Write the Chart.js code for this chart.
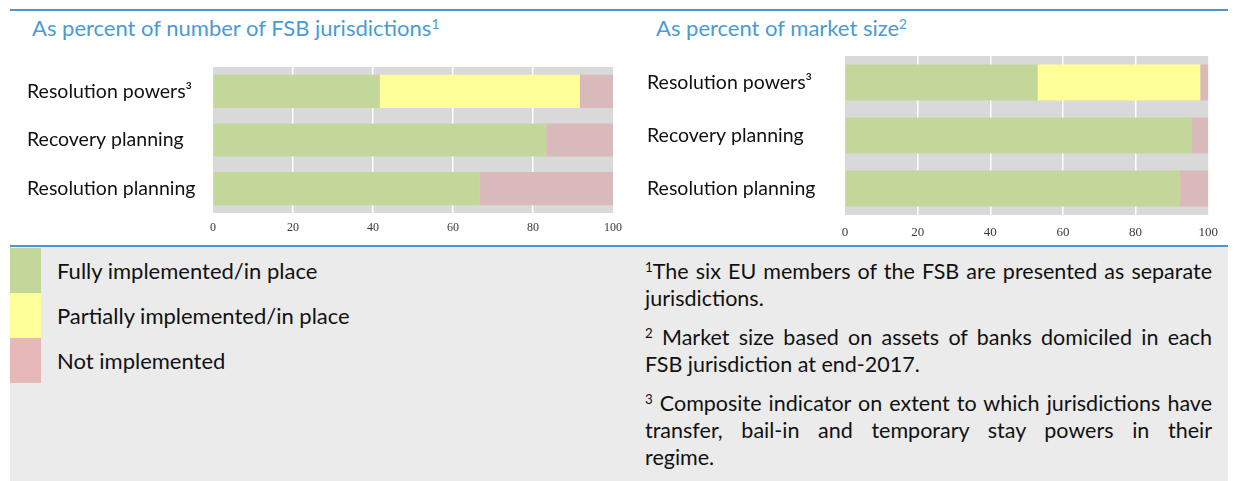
<!DOCTYPE html>
<html>
<head>
<meta charset="utf-8">
<script src="https://cdn.jsdelivr.net/npm/chart.js@4"></script>
<style>
  html, body { margin: 0; padding: 0; background: #ffffff; }
  body { width: 1236px; height: 481px; position: relative; overflow: hidden; font-family: Lato, "Open Sans", sans-serif; }
  .rule { position: absolute; left: 10px; width: 1218px; height: 2px; background: #4b94cc; }
  .title { position: absolute; top: 14px; font-size: 22px; line-height: 27px; color: #4a9bd3; white-space: nowrap; }
  sup { font-size: 0.62em; line-height: 0; vertical-align: 0.5em; }
  canvas { position: absolute; }
  #panel { position: absolute; left: 10px; top: 247px; width: 1218px; height: 234px; background: #ebebeb; }
  #legend { position: absolute; left: 10px; top: 248px; }
  .lrow { display: flex; align-items: center; height: 45px; }
  .sw { width: 31px; height: 45px; }
  .lt { margin-left: 16px; font-size: 22px; color: #111; white-space: nowrap; }
  #notes { position: absolute; left: 645px; top: 258px; width: 567px; font-size: 21.5px; color: #111; }
  .para { margin-bottom: 12px; }
  .ln { line-height: 27px; height: 27px; white-space: nowrap; }
</style>
</head>
<body>
<div class="rule" style="top:9px"></div>
<div class="title" style="left:32px">As percent of number of FSB jurisdictions<sup>1</sup></div>
<div class="title" style="left:656px">As percent of market size<sup>2</sup></div>
<canvas id="c1" width="630" height="199" style="left:0px;top:40px"></canvas>
<canvas id="c2" width="608" height="201" style="left:620px;top:40px"></canvas>
<div class="rule" style="top:245px"></div>
<div id="panel"></div>
<div id="legend"></div>
<div id="notes">
  <div class="para">
    <div class="ln j"><span><sup>1</sup>The six EU members of the FSB are presented as separate</span></div>
    <div class="ln"><span>jurisdictions.</span></div>
  </div>
  <div class="para">
    <div class="ln j"><span><sup>2</sup> Market size based on assets of banks domiciled in each</span></div>
    <div class="ln"><span>FSB jurisdiction at end-2017.</span></div>
  </div>
  <div class="para">
    <div class="ln j"><span><sup>3</sup> Composite indicator on extent to which jurisdictions have</span></div>
    <div class="ln j"><span>transfer, bail-in and temporary stay powers in their</span></div>
    <div class="ln"><span>regime.</span></div>
  </div>
</div>
<script>
// ---- data ----
const categories = ['Resolution powers³', 'Recovery planning', 'Resolution planning'];
const seriesNames = ['Fully implemented/in place', 'Partially implemented/in place', 'Not implemented'];

// As percent of number of FSB jurisdictions
const jurFull    = [41.7, 83.3, 66.7];
const jurPartial = [50.0, 0, 0];
const jurNot     = [8.3, 16.7, 33.3];

// As percent of market size
const mktFull    = [53.0, 95.4, 92.2];
const mktPartial = [44.8, 0, 0];
const mktNot     = [2.2, 4.6, 7.8];

const xTicks = [0, 20, 40, 60, 80, 100];

// ---- styles ----
const barColors = ['#c4d79b', '#ffff99', '#d9b9b9'];
const legendColors = ['#c4d79b', '#ffff99', '#e6b8b7'];

// legend
const lg = document.getElementById('legend');
seriesNames.forEach((n, i) => {
  const r = document.createElement('div'); r.className = 'lrow';
  const s = document.createElement('div'); s.className = 'sw'; s.style.background = legendColors[i];
  const t = document.createElement('div'); t.className = 'lt'; t.textContent = n;
  r.appendChild(s); r.appendChild(t); lg.appendChild(r);
});

// justify footnote lines exactly to the column width
function justify() {
  const W = document.getElementById('notes').clientWidth;
  document.querySelectorAll('.ln.j').forEach(div => {
    const sp = div.firstElementChild;
    sp.style.wordSpacing = '0px';
    const nat = sp.getBoundingClientRect().width;
    const spaces = (sp.textContent.match(/ /g) || []).length;
    if (spaces) sp.style.wordSpacing = ((W - nat) / spaces) + 'px';
  });
}
justify();
if (document.fonts && document.fonts.ready) document.fonts.ready.then(justify);

const plotBg = {
  id: 'plotBg',
  beforeDraw(chart) {
    const a = chart.chartArea, ctx = chart.ctx;
    ctx.save(); ctx.fillStyle = '#d9d9d9';
    ctx.fillRect(a.left, a.top, a.right - a.left, a.bottom - a.top);
    ctx.restore();
  }
};

function makeChart(id, full, partial, notImpl, opts) {
  const data = {
    labels: categories,
    datasets: [full, partial, notImpl].map((d, i) => ({
      label: seriesNames[i], data: d, backgroundColor: barColors[i],
      borderWidth: 0, categoryPercentage: 0.8, barPercentage: 0.85
    }))
  };
  return new Chart(document.getElementById(id), {
    type: 'bar',
    data,
    plugins: [plotBg],
    options: {
      indexAxis: 'y', responsive: false, animation: false, devicePixelRatio: 1,
      layout: { padding: { left: 27, top: opts.top, right: 11, bottom: 0 } },
      plugins: { legend: { display: false }, tooltip: { enabled: false } },
      scales: {
        x: {
          stacked: true, min: 0, max: 100,
          afterBuildTicks(s) { s.ticks = xTicks.map(v => ({ value: v })); },
          afterFit(s) { s.height = opts.xHeight; },
          grid: { drawTicks: false, lineWidth: 1.5,
                  color: c => (c.tick && (c.tick.value === 0 || c.tick.value === 100)) ? 'rgba(0,0,0,0)' : '#ffffff' },
          border: { display: false },
          ticks: { padding: opts.tickPad, color: '#3a3a3a',
                   font: { family: 'Liberation Serif', size: opts.tickSize } }
        },
        y: {
          stacked: true,
          afterFit(s) { s.width = opts.yWidth; s.paddingTop = 0; s.paddingBottom = 0; },
          grid: { display: false }, border: { display: false },
          ticks: { crossAlign: 'far', color: '#111', padding: 0,
                   font: { family: 'Lato', size: 19.5 } }
        }
      }
    }
  });
}

makeChart('c1', jurFull, jurPartial, jurNot, { top: 27, tickPad: 8, tickSize: 12, yWidth: 186, xHeight: 26 });
makeChart('c2', mktFull, mktPartial, mktNot, { top: 16, tickPad: 10, tickSize: 13, yWidth: 198, xHeight: 26 });
</script>
</body>
</html>
